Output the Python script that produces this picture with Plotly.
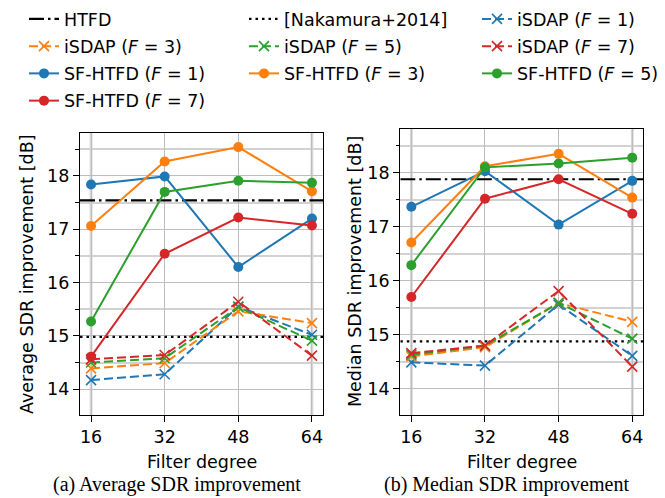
import plotly.graph_objects as go

# ---------------- data ----------------
DEGREES = [16, 32, 48, 64]
F_VALUES = [1, 3, 5, 7]

HTFD_AVG = 17.54
NAKAMURA_AVG = 14.98
HTFD_MED = 17.88
NAKAMURA_MED = 14.88

ISDAP_AVG_F1 = [14.17, 14.28, 15.55, 15.02]
ISDAP_AVG_F3 = [14.39, 14.49, 15.46, 15.24]
ISDAP_AVG_F5 = [14.50, 14.58, 15.54, 14.91]
ISDAP_AVG_F7 = [14.56, 14.64, 15.64, 14.63]

SF_AVG_F1 = [17.84, 17.99, 16.29, 17.20]
SF_AVG_F3 = [17.06, 18.27, 18.54, 17.71]
SF_AVG_F5 = [15.27, 17.70, 17.91, 17.87]
SF_AVG_F7 = [14.61, 16.54, 17.22, 17.07]

ISDAP_MED_F1 = [14.49, 14.43, 15.56, 14.61]
ISDAP_MED_F3 = [14.60, 14.77, 15.59, 15.24]
ISDAP_MED_F5 = [14.63, 14.80, 15.59, 14.93]
ISDAP_MED_F7 = [14.66, 14.80, 15.81, 14.41]

SF_MED_F1 = [17.37, 18.03, 17.04, 17.85]
SF_MED_F3 = [16.71, 18.12, 18.35, 17.54]
SF_MED_F5 = [16.29, 18.10, 18.17, 18.28]
SF_MED_F7 = [15.70, 17.52, 17.88, 17.24]

Y_TICKS = [14, 15, 16, 17, 18]
X_RANGE = [13.6, 66.4]
Y_RANGE = [13.51, 18.81]

COLORS = ["#1f77b4", "#ff7f0e", "#2ca02c", "#d62728"]

W, H = 665, 498
FONT = "DejaVu Sans"
FS = 17.5

# legend column assignment (row-wise order across 3 columns)
LEGEND_ORDER = ["htfd", "naka", "isdap1", "isdap3", "isdap5", "isdap7",
                "sf1", "sf3", "sf5", "sf7"]
LEGEND_COLS = ["legend", "legend2", "legend3"]


def legend_of(key):
    return LEGEND_COLS[LEGEND_ORDER.index(key) % 3]


fig = go.Figure()

panels = [
    ("x", "y", HTFD_AVG, NAKAMURA_AVG,
     [ISDAP_AVG_F1, ISDAP_AVG_F3, ISDAP_AVG_F5, ISDAP_AVG_F7],
     [SF_AVG_F1, SF_AVG_F3, SF_AVG_F5, SF_AVG_F7], True),
    ("x2", "y2", HTFD_MED, NAKAMURA_MED,
     [ISDAP_MED_F1, ISDAP_MED_F3, ISDAP_MED_F5, ISDAP_MED_F7],
     [SF_MED_F1, SF_MED_F3, SF_MED_F5, SF_MED_F7], False),
]

for xa, ya, htfd, naka, isdap, sf, show in panels:
    fig.add_trace(go.Scatter(
        x=X_RANGE, y=[htfd, htfd], xaxis=xa, yaxis=ya, mode="lines",
        name="HTFD", legendgroup="htfd", legend=legend_of("htfd"), showlegend=show,
        line=dict(color="black", width=2.2, dash="15px,4px,2.5px,4px")))
    fig.add_trace(go.Scatter(
        x=X_RANGE, y=[naka, naka], xaxis=xa, yaxis=ya, mode="lines",
        name="[Nakamura+2014]", legendgroup="naka", legend=legend_of("naka"),
        showlegend=show,
        line=dict(color="black", width=2.2, dash="2.5px,4px")))
    for f, vals, c in zip(F_VALUES, isdap, COLORS):
        key = f"isdap{f}"
        fig.add_trace(go.Scatter(
            x=DEGREES, y=vals, xaxis=xa, yaxis=ya, mode="lines+markers",
            name=f"iSDAP (<i>F</i> = {f})", legendgroup=key, legend=legend_of(key),
            showlegend=show,
            line=dict(color=c, width=2, dash="9px,4px"),
            marker=dict(symbol="x-thin", size=10, color=c,
                        line=dict(color=c, width=1.6))))
    for f, vals, c in zip(F_VALUES, sf, COLORS):
        key = f"sf{f}"
        fig.add_trace(go.Scatter(
            x=DEGREES, y=vals, xaxis=xa, yaxis=ya, mode="lines+markers",
            name=f"SF-HTFD (<i>F</i> = {f})", legendgroup=key, legend=legend_of(key),
            showlegend=show,
            line=dict(color=c, width=2),
            marker=dict(symbol="circle", size=10, color=c)))


def px_x(p):
    return p / W


def px_y(p):
    return 1 - p / H


def xaxis_cfg(domain, anchor):
    return dict(
        domain=domain, anchor=anchor, range=X_RANGE, tickvals=DEGREES,
        ticktext=[str(d) for d in DEGREES],
        showgrid=True, gridcolor="#bdbdbd", gridwidth=1.1,
        zeroline=False, showline=True, linecolor="black", linewidth=1.3,
        mirror=True, ticks="outside", ticklen=6, tickwidth=1.2,
        tickcolor="black", tickfont=dict(family=FONT, size=FS, color="black"),
    )


def yaxis_cfg(domain, anchor):
    return dict(
        domain=domain, anchor=anchor, range=Y_RANGE, tickvals=Y_TICKS,
        showgrid=True, gridcolor="#bdbdbd", gridwidth=1.1,
        zeroline=False, showline=True, linecolor="black", linewidth=1.3,
        mirror=True, ticks="outside", ticklen=6, tickwidth=1.2,
        tickcolor="black", tickfont=dict(family=FONT, size=FS, color="black"),
        minor=dict(tick0=0.5, dtick=1, ticks="outside", ticklen=3.5,
                   tickcolor="black", tickwidth=1,
                   showgrid=True, gridcolor="#d2d2d2", gridwidth=1.6),
    )


def legend_cfg(xpx):
    return dict(
        orientation="v", x=px_x(xpx), y=px_y(1), xanchor="left", yanchor="top",
        traceorder="grouped", tracegroupgap=1.5,
        font=dict(family=FONT, size=FS, color="black"),
        bgcolor="rgba(0,0,0,0)", itemwidth=30,
    )


fig.update_layout(
    width=W, height=H,
    margin=dict(l=0, r=0, t=0, b=0),
    paper_bgcolor="white", plot_bgcolor="white",
    font=dict(family=FONT, size=FS, color="black"),
    showlegend=True,
    xaxis=xaxis_cfg([px_x(80), px_x(323)], "y"),
    yaxis=yaxis_cfg([px_y(415.3), px_y(132.7)], "x"),
    xaxis2=xaxis_cfg([px_x(400.3), px_x(643.3)], "y2"),
    yaxis2=yaxis_cfg([px_y(415.3), px_y(129)], "x2"),
    legend=legend_cfg(24),
    legend2=legend_cfg(244),
    legend3=legend_cfg(477),
)

# thicker light grid lines at the first and last filter degree
for xr, yr in [("x", "y domain"), ("x2", "y2 domain")]:
    for d in (DEGREES[0], DEGREES[-1]):
        fig.add_shape(type="line", xref=xr, yref=yr, x0=d, x1=d, y0=0, y1=1,
                      line=dict(color="#d6d6d6", width=2.8), layer="below")

annos = [
    dict(text="Average SDR improvement [dB]", x=px_x(27), y=px_y(274), textangle=-90),
    dict(text="Median SDR improvement [dB]", x=px_x(355), y=px_y(272), textangle=-90),
    dict(text="Filter degree", x=px_x(202), y=px_y(462)),
    dict(text="Filter degree", x=px_x(522), y=px_y(462)),
]
for a in annos:
    fig.add_annotation(xref="paper", yref="paper", showarrow=False,
                       xanchor="center", yanchor="middle",
                       font=dict(family=FONT, size=FS, color="black"), **a)

caps = [
    dict(text="(a) Average SDR improvement", x=px_x(177)),
    dict(text="(b) Median SDR improvement", x=px_x(506)),
]
for a in caps:
    fig.add_annotation(xref="paper", yref="paper", showarrow=False, y=0,
                       xanchor="center", yanchor="bottom",
                       font=dict(family="Liberation Serif", size=20, color="black"), **a)

fig.write_html("out.html",
               config={"displayModeBar": False},
               post_script="document.body.style.margin='0px';"
                           "document.body.style.overflow='hidden';")
